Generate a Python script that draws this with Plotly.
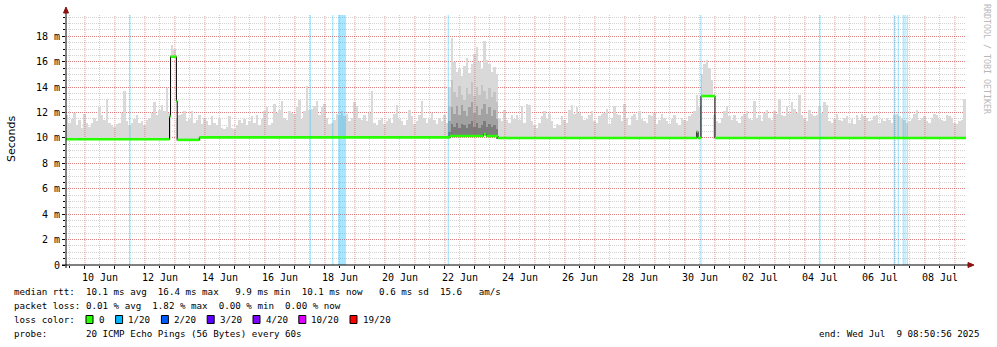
import numpy as np
import pandas as pd
import plotly.graph_objects as go

# ---------------------------------------------------------------- time frame
t_start = "2025-06-09 08:50:56"
t_end = "2025-07-09 08:50:56"
bin_start = "2025-06-09 09:00"   # smoke is aggregated in 2 h steps
y_max = 19.68                    # upper limit of the value axis (ms)

# highest ping of every 2 h step, tenths of a millisecond
smoke_max = [
    118, 112, 115, 120, 110, 114, 108, 119, 112, 109, 112, 116,
    113, 124, 118, 114, 131, 112, 110, 109, 111, 112, 120, 137,
    113, 110, 112, 115, 118, 112, 113, 110, 114, 116, 120, 128,
    118, 122, 126, 121, 139, 120, 173, 170, 116, 118, 119, 121,
    113, 115, 121, 112, 114, 118, 111, 116, 113, 110, 117, 112,
    110, 116, 108, 107, 109, 117, 108, 107, 110, 114, 112, 115,
    110, 113, 117, 112, 118, 110, 115, 121, 124, 110, 112, 127,
    120, 122, 129, 116, 114, 121, 120, 119, 124, 130, 115, 121,
    141, 122, 123, 125, 129, 118, 124, 127, 116, 111, 112, 114,
    119, 118, 121, 117, 119, 113, 116, 128, 125, 116, 114, 118,
    113, 120, 137, 112, 110, 114, 116, 111, 113, 115, 112, 119,
    126, 115, 113, 110, 114, 122, 117, 111, 113, 118, 129, 116,
    112, 115, 120, 114, 111, 116, 113, 118, 112, 140, 179, 160,
    152, 155, 149, 157, 163, 151, 158, 166, 172, 160, 154, 176,
    161, 158, 152, 156, 150, 116, 113, 122, 114, 112, 118, 115,
    118, 114, 125, 112, 127, 126, 113, 110, 108, 112, 117, 121,
    115, 119, 113, 108, 111, 110, 117, 114, 112, 122, 126, 119,
    124, 120, 117, 114, 115, 118, 121, 113, 112, 117, 119, 120,
    123, 111, 116, 125, 119, 118, 113, 127, 116, 110, 117, 119,
    114, 121, 115, 113, 112, 118, 117, 120, 111, 114, 119, 116,
    113, 111, 115, 118, 112, 110, 116, 114, 113, 117, 119, 121,
    134, 124, 150, 158, 161, 155, 146, 118, 113, 112, 116, 121,
    125, 117, 114, 118, 113, 112, 117, 119, 121, 115, 114, 129,
    116, 118, 113, 120, 122, 116, 114, 121, 119, 131, 118, 117,
    125, 119, 128, 123, 120, 134, 118, 116, 113, 122, 119, 117,
    118, 125, 120, 128, 126, 113, 112, 115, 119, 114, 113, 116,
    117, 112, 115, 111, 118, 114, 119, 117, 116, 113, 114, 117,
    118, 112, 115, 113, 116, 114, 112, 118, 119, 117, 116, 114,
    112, 113, 115, 119, 122, 114, 116, 117, 113, 112, 116, 119,
    118, 115, 114, 113, 118, 117, 116, 112, 111, 113, 114, 131,
]

# dense smoke during the 22-23 Jun disturbance (steps 153..172), tenths of ms
burst_first_step = 153
burst_q75 = [125, 146, 136, 132, 141, 134, 130, 139, 135, 144,
             133, 140, 134, 142, 137, 131, 139, 132, 136, 128]
burst_q50 = [113, 124, 119, 125, 118, 126, 121, 117, 124, 128,
             120, 125, 118, 123, 127, 119, 124, 117, 122, 115]
burst_q25 = [105, 111, 109, 112, 108, 111, 110, 108, 111, 113,
             109, 112, 108, 110, 113, 109, 111, 109, 110, 107]

# median rtt, as steps (value holds until the next time), ms
median_times = [
    "2025-06-09 08:50", "2025-06-12 19:40", "2025-06-12 20:30",
    "2025-06-13 01:10", "2025-06-13 01:50", "2025-06-13 19:30",
    "2025-06-22 04:00", "2025-06-23 07:00", "2025-06-23 09:00",
    "2025-06-23 18:30", "2025-06-30 09:30", "2025-06-30 10:30",
    "2025-06-30 12:50", "2025-07-01 00:00", "2025-07-09 08:51",
]
median_ms = [9.9, 11.7, 16.4, 12.9, 9.85, 10.05, 10.15, 10.3, 10.15,
             10.0, 10.5, 10.0, 13.3, 10.0, 10.0]

# periods with packet loss (1/20)
loss_start = [
    "2025-06-11 11:30", "2025-06-17 11:45", "2025-06-18 05:45",
    "2025-06-18 10:30", "2025-06-22 02:10", "2025-06-30 12:20",
    "2025-07-04 11:30", "2025-07-06 23:00", "2025-07-07 02:10",
    "2025-07-07 06:10", "2025-07-07 07:35", "2025-07-07 09:20",
]
loss_end = [
    "2025-06-11 12:30", "2025-06-17 12:45", "2025-06-18 06:45",
    "2025-06-18 16:50", "2025-06-22 03:10", "2025-06-30 13:20",
    "2025-07-04 12:30", "2025-07-07 00:00", "2025-07-07 03:10",
    "2025-07-07 07:10", "2025-07-07 08:35", "2025-07-07 10:20",
]

y_ticks = [0, 2, 4, 6, 8, 10, 12, 14, 16, 18]
y_tick_text = ["0", "2 m", "4 m", "6 m", "8 m", "10 m", "12 m", "14 m", "16 m", "18 m"]
# one major tick per day; every second day carries a label
x_days = ["2025-06-10", "2025-06-11", "2025-06-12", "2025-06-13", "2025-06-14",
          "2025-06-15", "2025-06-16", "2025-06-17", "2025-06-18", "2025-06-19",
          "2025-06-20", "2025-06-21", "2025-06-22", "2025-06-23", "2025-06-24",
          "2025-06-25", "2025-06-26", "2025-06-27", "2025-06-28", "2025-06-29",
          "2025-06-30", "2025-07-01", "2025-07-02", "2025-07-03", "2025-07-04",
          "2025-07-05", "2025-07-06", "2025-07-07", "2025-07-08", "2025-07-09"]
x_day_text = ["10 Jun", "", "12 Jun", "", "14 Jun", "", "16 Jun", "", "18 Jun", "",
              "20 Jun", "", "22 Jun", "", "24 Jun", "", "26 Jun", "", "28 Jun", "",
              "30 Jun", "", "02 Jul", "", "04 Jul", "", "06 Jul", "", "08 Jul", ""]

loss_labels = ["0", "1/20", "2/20", "3/20", "4/20", "10/20", "19/20"]
loss_colors = ["#26ff00", "#00b8ff", "#0059ff", "#5e00ff", "#7e00ff", "#dd00ff", "#ff0000"]

legend_rows = [
    "median rtt:  10.1 ms avg  16.4 ms max   9.9 ms min  10.1 ms now   0.6 ms sd  15.6   am/s",
    "packet loss: 0.01 % avg  1.82 % max  0.00 % min  0.00 % now",
    "loss color:",
    "probe:       20 ICMP Echo Pings (56 Bytes) every 60s",
]
end_text = "end: Wed Jul  9 08:50:56 2025"

# ---------------------------------------------------------------- geometry
W, H = 997, 347
L, R, T, B = 66, 31, 15, 82
PW, PH = W - L - R, H - T - B
MONO = "DejaVu Sans Mono"
STEP_MS = 2 * 3600 * 1000


def px_x(px):
    return (px - L) / PW


def px_y(py):
    return (H - B - py) / PH


def nb(s):
    return s.replace(" ", "\u00a0")


# ---------------------------------------------------------------- derived series
edges = pd.date_range(bin_start, periods=len(smoke_max) + 1, freq="2h")
centers = edges[:-1] + pd.Timedelta(hours=1)
med_t = pd.to_datetime(median_times)
med_v = np.array(median_ms)
noons = [d + " 12:00" for d in ["2025-06-09"] + x_days]
half_day_px = int(round(PW / 30 / 2))   # labels sit at the middle of their day


def median_floor(i):
    """lowest median value seen inside step i"""
    a, b = edges[i], edges[i + 1]
    k = max(np.searchsorted(med_t, a, side="right") - 1, 0)
    vals = [med_v[k]] + list(med_v[(med_t > a) & (med_t < b)])
    return min(vals)


base = np.array([median_floor(i) for i in range(len(smoke_max))]) - 0.08
top = np.array(smoke_max) / 10.0

red_grid = "rgba(230,50,50,0.5)"
grey_grid = "rgba(150,150,150,0.42)"
DOT = "1px,1px"

fig = go.Figure()

# day boundaries (dotted red)
dx, dy = [], []
for d in x_days:
    dx += [d, d, None]
    dy += [0, y_max, None]
fig.add_trace(go.Scatter(x=dx, y=dy, mode="lines", hoverinfo="skip",
                         line=dict(color=red_grid, width=1, dash=DOT)))

# packet loss markers
lx, ly = [], []
for s, e in zip(loss_start, loss_end):
    lx += [s, e, e, s, s, None]
    ly += [0, 0, y_max, y_max, 0, None]
fig.add_trace(go.Scatter(x=lx, y=ly, fill="toself", mode="lines", line=dict(width=0),
                         fillcolor="rgba(0,184,255,0.34)", hoverinfo="skip"))


def add_smoke(x, lo, hi, color):
    fig.add_trace(go.Bar(x=list(x), y=list(hi - lo), base=list(lo), width=0.78 * STEP_MS,
                         marker=dict(color=color, line=dict(width=0)), hoverinfo="skip"))


# smoke
add_smoke(centers, base, top, "#d9d9d9")
b0 = burst_first_step
b1 = b0 + len(burst_q75)
for layer, col in [(burst_q75, "#c4c4c4"), (burst_q50, "#a2a2a2"), (burst_q25, "#7c7c7c")]:
    add_smoke(centers[b0:b1], base[b0:b1], np.array(layer) / 10.0, col)

# median: black connectors, green level segments
fig.add_trace(go.Scatter(x=median_times, y=median_ms, mode="lines",
                         line=dict(color="black", width=1, shape="hv"), hoverinfo="skip"))
gx, gy = [], []
for j in range(len(median_times) - 1):
    gx += [median_times[j], median_times[j + 1], None]
    gy += [median_ms[j], median_ms[j], None]
fig.add_trace(go.Scatter(x=gx, y=gy, mode="lines",
                         line=dict(color="#26ff00", width=2.6), hoverinfo="skip"))

fig.update_layout(
    width=W, height=H, margin=dict(l=L, r=R, t=T, b=B),
    paper_bgcolor="white", plot_bgcolor="white", showlegend=False,
    barmode="overlay", bargap=0,
    font=dict(family=MONO, size=10, color="black"),
    # day ticks (labels centred on the day) and noon grid (minor)
    xaxis=dict(
        type="date", range=[t_start, t_end], tickmode="array", tickvals=x_days,
        ticktext=x_day_text, ticklabelshift=half_day_px,
        tickfont=dict(family=MONO, size=10, color="black"),
        showgrid=False, ticks="outside", ticklen=3, tickcolor="black",
        zeroline=False, showline=False,
        minor=dict(tickmode="array", tickvals=noons, showgrid=True, gridcolor=grey_grid,
                   griddash=DOT, ticks="outside", ticklen=2, tickcolor="black"),
    ),
    yaxis=dict(
        range=[0, y_max], tickmode="array", tickvals=y_ticks, ticktext=y_tick_text,
        showgrid=True, gridcolor=red_grid, griddash=DOT,
        ticks="outside", ticklen=3, tickcolor="black", zeroline=False, showline=False,
        tickfont=dict(family=MONO, size=10, color="black"),
        minor=dict(dtick=0.5, showgrid=True, gridcolor=grey_grid, griddash=DOT,
                   ticks="outside", ticklen=2, tickcolor="black"),
    ),
)

# axis lines and arrow heads
ARROW = "#8b1010"
shapes = [
    dict(type="line", xref="paper", yref="paper", x0=px_x(62), x1=px_x(969),
         y0=0, y1=0, line=dict(color="black", width=1)),
    dict(type="line", xref="paper", yref="paper", x0=0, x1=0,
         y0=px_y(268), y1=px_y(12), line=dict(color="black", width=1)),
    dict(type="path", xref="paper", yref="paper", fillcolor=ARROW,
         line=dict(color=ARROW, width=1),
         path=f"M {px_x(968)},{px_y(262.5)} L {px_x(974)},{px_y(265)} L {px_x(968)},{px_y(267.5)} Z"),
    dict(type="path", xref="paper", yref="paper", fillcolor=ARROW,
         line=dict(color=ARROW, width=1),
         path=f"M {px_x(63.5)},{px_y(13)} L {px_x(66)},{px_y(7)} L {px_x(68.5)},{px_y(13)} Z"),
]

annotations = [
    dict(text="Seconds", textangle=-90, x=px_x(11), y=px_y(139), xref="paper", yref="paper",
         xanchor="center", yanchor="middle", showarrow=False,
         font=dict(family="DejaVu Sans", size=11, color="black")),
    dict(text=nb("RRDTOOL / TOBI OETIKER"), textangle=90, x=px_x(987), y=px_y(59),
         xref="paper", yref="paper", xanchor="center", yanchor="middle", showarrow=False,
         font=dict(family=MONO, size=8.3, color="#b8b8b8")),
]

LEG = 9.2
row_y = [291.5, 305.5, 319.5, 333.5]
for text, ry in zip(legend_rows, row_y):
    annotations.append(dict(text=nb(text), x=px_x(12), y=px_y(ry), xref="paper",
                            yref="paper", xanchor="left", yanchor="middle", showarrow=False,
                            font=dict(family=MONO, size=LEG, color="black")))
annotations.append(dict(text=nb(end_text), x=px_x(981), y=px_y(row_y[3]), xref="paper",
                        yref="paper", xanchor="right", yanchor="middle", showarrow=False,
                        font=dict(family=MONO, size=LEG, color="black")))

bx = 86.0
for lab, col in zip(loss_labels, loss_colors):
    shapes.append(dict(type="rect", xref="paper", yref="paper",
                       x0=px_x(bx), x1=px_x(bx + 7), y0=px_y(row_y[2] + 4), y1=px_y(row_y[2] - 4),
                       fillcolor=col, line=dict(color="black", width=1)))
    annotations.append(dict(text=nb(lab), x=px_x(bx + 10.5), y=px_y(row_y[2]), xref="paper",
                            yref="paper", xanchor="left", yanchor="middle", showarrow=False,
                            font=dict(family=MONO, size=LEG, color="black")))
    bx += 24.2 + 5.4 * len(lab)

fig.update_layout(shapes=shapes, annotations=annotations)
fig.write_html("out.html")
